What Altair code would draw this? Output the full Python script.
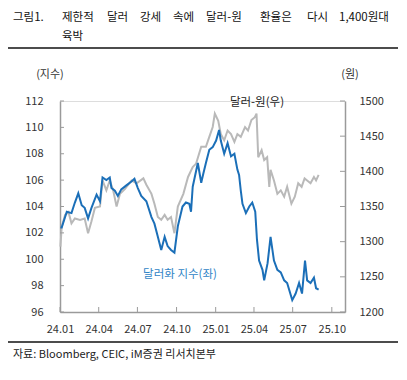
import altair as alt
import pandas as pd

# ---- data ----
dxy_dates = [
    "2024-01-02", "2024-01-05", "2024-01-17", "2024-01-28", "2024-02-05", "2024-02-13",
    "2024-02-21", "2024-02-28", "2024-03-07", "2024-03-15", "2024-03-27", "2024-04-04",
    "2024-04-10", "2024-04-19", "2024-04-27", "2024-05-01", "2024-05-09", "2024-05-16",
    "2024-05-24", "2024-06-05", "2024-06-17", "2024-06-24", "2024-07-02", "2024-07-10",
    "2024-07-22", "2024-08-03", "2024-08-10", "2024-08-18", "2024-08-26", "2024-09-03",
    "2024-09-10", "2024-09-18", "2024-09-26", "2024-10-04", "2024-10-15", "2024-10-23",
    "2024-10-31", "2024-11-04", "2024-11-08", "2024-11-20", "2024-11-28", "2024-12-03",
    "2024-12-09", "2024-12-17", "2024-12-25", "2025-01-02", "2025-01-09", "2025-01-13",
    "2025-01-21", "2025-01-29", "2025-02-06", "2025-02-14", "2025-02-21", "2025-02-25",
    "2025-03-01", "2025-03-05", "2025-03-13", "2025-03-21", "2025-03-28", "2025-04-04",
    "2025-04-08", "2025-04-13", "2025-04-21", "2025-04-25", "2025-05-03", "2025-05-10",
    "2025-05-18", "2025-05-26", "2025-06-03", "2025-06-11", "2025-06-18", "2025-06-30",
    "2025-07-08", "2025-07-16", "2025-07-23", "2025-07-30", "2025-08-04", "2025-08-12",
    "2025-08-20", "2025-08-25", "2025-08-31",
]
dxy_values = [
    102.4, 102.4, 103.6, 103.5, 104.3, 105.0,
    104.1, 103.9, 103.1, 103.9, 104.9, 104.4,
    106.2, 106.0, 106.2, 105.4, 105.2, 104.8,
    105.3, 105.6, 105.9, 106.1, 105.4, 104.8,
    104.4, 103.2, 102.7, 101.7, 100.7, 101.7,
    101.0, 100.7, 100.5, 102.5, 104.0, 104.3,
    104.2, 103.6, 105.5, 107.3, 105.8, 106.5,
    107.3, 108.3, 108.5, 109.0, 109.8, 109.0,
    108.0, 108.8, 107.8, 108.0, 106.8, 106.4,
    105.2, 104.2, 103.5, 104.0, 104.3, 103.6,
    101.5, 99.9, 99.2, 98.4, 99.7, 101.7,
    99.9, 99.2, 99.0, 98.4, 98.2, 96.9,
    97.4, 98.2, 97.4, 99.9, 98.4, 98.2,
    98.6, 97.8, 97.7,
]

krw_dates = [
    "2024-01-02", "2024-01-05", "2024-01-13", "2024-01-21", "2024-01-28", "2024-02-05",
    "2024-02-17", "2024-02-28", "2024-03-07", "2024-03-15", "2024-03-23", "2024-04-04",
    "2024-04-10", "2024-04-19", "2024-04-27", "2024-05-05", "2024-05-13", "2024-05-21",
    "2024-06-02", "2024-06-17", "2024-06-29", "2024-07-15", "2024-07-22", "2024-08-03",
    "2024-08-10", "2024-08-18", "2024-08-26", "2024-09-03", "2024-09-10", "2024-09-18",
    "2024-09-26", "2024-10-04", "2024-10-17", "2024-10-28", "2024-11-08", "2024-11-16",
    "2024-11-28", "2024-12-09", "2024-12-17", "2024-12-25", "2024-12-30", "2025-01-07",
    "2025-01-13", "2025-01-21", "2025-01-29", "2025-02-06", "2025-02-14", "2025-02-21",
    "2025-03-01", "2025-03-11", "2025-03-18", "2025-03-26", "2025-04-03", "2025-04-07",
    "2025-04-11", "2025-04-19", "2025-04-25", "2025-05-02", "2025-05-07", "2025-05-10",
    "2025-05-18", "2025-05-26", "2025-06-03", "2025-06-11", "2025-06-18", "2025-06-28",
    "2025-07-06", "2025-07-14", "2025-07-22", "2025-07-29", "2025-08-04", "2025-08-12",
    "2025-08-20", "2025-08-25", "2025-08-31",
]
krw_values = [
    1293, 1321, 1338, 1342, 1326, 1333,
    1331, 1333, 1312, 1329, 1348, 1350,
    1387, 1373, 1387, 1373, 1350, 1368,
    1375, 1387, 1383, 1390, 1381, 1368,
    1354, 1335, 1331, 1338, 1331, 1335,
    1312, 1350, 1368, 1392, 1406, 1411,
    1435, 1435, 1449, 1463, 1482, 1472,
    1453, 1444, 1458, 1453, 1442, 1453,
    1449, 1463, 1458, 1473, 1477, 1482,
    1420, 1430, 1416, 1420, 1378, 1402,
    1387, 1368, 1373, 1364, 1378, 1354,
    1364, 1383, 1378, 1390, 1387, 1383,
    1392, 1387, 1395,
]

left_ticks = [96, 98, 100, 102, 104, 106, 108, 110, 112]
right_ticks = [1200, 1250, 1300, 1350, 1400, 1450, 1500]
x_ticks = ["2024-01-01", "2024-04-01", "2024-07-01", "2024-10-01",
           "2025-01-01", "2025-04-01", "2025-07-01", "2025-10-01"]

title_num = "그림1."
title_words = ["제한적", "달러", "강세", "속에", "달러-원", "환율은", "다시", "1,400원대"]
title_line2 = "육박"
source_text = "자료: Bloomberg, CEIC, iM증권 리서치본부"
left_unit = "(지수)"
right_unit = "(원)"
krw_label = "달러-원(우)"
dxy_label = "달러화 지수(좌)"

# ---- chart ----
W, H = 285, 211
FONT = "Noto Sans CJK KR"
AXIS_COLOR = "#9a9a9a"
LABEL_COLOR = "#333333"
BLUE = "#1b6fb8"
GRAY = "#b9b9b9"

dxy_df = pd.DataFrame({"date": dxy_dates, "value": dxy_values})
krw_df = pd.DataFrame({"date": krw_dates, "value": krw_values})
lt_df = pd.DataFrame({"value": left_ticks})
rt_df = pd.DataFrame({"value": right_ticks})
xt_df = pd.DataFrame({"date": x_ticks})

x_scale = alt.Scale(domain=[alt.DateTime(year=2024, month=1, date=1),
                            alt.DateTime(year=2025, month=11, date=1)])
y_left = alt.Scale(domain=[96, 112], nice=False, zero=False)
y_right = alt.Scale(domain=[1200, 1500], nice=False, zero=False)

x_values = [alt.DateTime(year=int(s[:4]), month=int(s[5:7]), date=1) for s in x_ticks]

x_axis = alt.Axis(format="%y.%m", values=x_values, labelOverlap=False, labelFlush=False,
                  ticks=False, tickSize=0, grid=False, title=None,
                  labelPadding=11, labelFontSize=11, labelColor=LABEL_COLOR,
                  labelFont=FONT, domainColor=AXIS_COLOR, domainWidth=1.5)
right_axis = alt.Axis(orient="right", values=right_ticks, format="d",
                      labelOverlap=False, labelFlush=False, ticks=False, tickSize=0,
                      grid=False, title=None, labelPadding=14, labelFontSize=11,
                      labelColor=LABEL_COLOR, labelFont=FONT,
                      domainColor=AXIS_COLOR, domainWidth=1.5)
left_axis = alt.Axis(orient="left", values=left_ticks, format="d",
                     labelOverlap=False, labelFlush=False, ticks=False, tickSize=0,
                     grid=False, title=None, labelPadding=17, labelFontSize=11,
                     labelColor=LABEL_COLOR, labelFont=FONT,
                     domainColor=AXIS_COLOR, domainWidth=1.5)

gray_line = alt.Chart(krw_df).mark_line(color=GRAY, strokeWidth=2).encode(
    x=alt.X("date:T", scale=x_scale, axis=x_axis),
    y=alt.Y("value:Q", scale=y_right, axis=right_axis),
)
gray_ticks = alt.Chart(rt_df).mark_rule(color=AXIS_COLOR, strokeWidth=1).encode(
    y=alt.Y("value:Q", scale=y_right, axis=right_axis),
    x=alt.value(W - 5), x2=alt.value(W),
)
gray_layer = alt.layer(gray_line, gray_ticks)

blue_line = alt.Chart(dxy_df).mark_line(color=BLUE, strokeWidth=2).encode(
    x=alt.X("date:T", scale=x_scale, axis=x_axis),
    y=alt.Y("value:Q", scale=y_left, axis=left_axis),
)
blue_ticks = alt.Chart(lt_df).mark_rule(color=AXIS_COLOR, strokeWidth=1).encode(
    y=alt.Y("value:Q", scale=y_left, axis=left_axis),
    x=alt.value(0), x2=alt.value(4),
)
x_tick_rules = alt.Chart(xt_df).mark_rule(color=AXIS_COLOR, strokeWidth=1).encode(
    x=alt.X("date:T", scale=x_scale, axis=x_axis),
    y=alt.value(H - 5), y2=alt.value(H),
)
blue_layer = alt.layer(blue_line, blue_ticks, x_tick_rules)

one = pd.DataFrame({"a": [0]})


def label(text, x, y, size=11, color=LABEL_COLOR, align="center"):
    return alt.Chart(one).mark_text(
        text=text, x=x, y=y, fontSize=size, color=color, align=align,
        baseline="middle", font=FONT,
    )


def hrule(x1, x2, y, color="#111111", width=1.5):
    return alt.Chart(one).mark_rule(color=color, strokeWidth=width).encode(
        x=alt.value(x1), x2=alt.value(x2), y=alt.value(y))


title_x = [2, 47, 80, 113, 146, 200, 247, 279]
title_marks = [label(w, xx, -83.5, size=11.5, color="#111111", align="left")
               for w, xx in zip(title_words, title_x)]

decor = alt.layer(
    label(title_num, -47, -83.5, size=11.5, color="#111111", align="left"),
    *title_marks,
    label(title_line2, 2, -64.5, size=11.5, color="#111111", align="left"),
    hrule(-52, 338, -53),
    hrule(-52, 338, 241),
    label(source_text, -47, 254, size=11, color="#222222", align="left"),
    label(left_unit, -10, -26, size=11),
    label(right_unit, 290, -26, size=11),
    label(krw_label, 197, 2, size=11.5, color="#222222"),
    label(dxy_label, 120, 174, size=11.5, color="#2f84c6"),
)

chart = alt.layer(gray_layer, blue_layer, decor).resolve_scale(
    y="independent"
).properties(
    width=W, height=H,
    autosize=alt.AutoSizeParams(type="none"),
    padding={"left": 52, "top": 93, "right": 54, "bottom": 58},
).configure_view(stroke=None).configure(background="white")

chart.save("out.html", embed_options={"renderer": "svg", "actions": False})
